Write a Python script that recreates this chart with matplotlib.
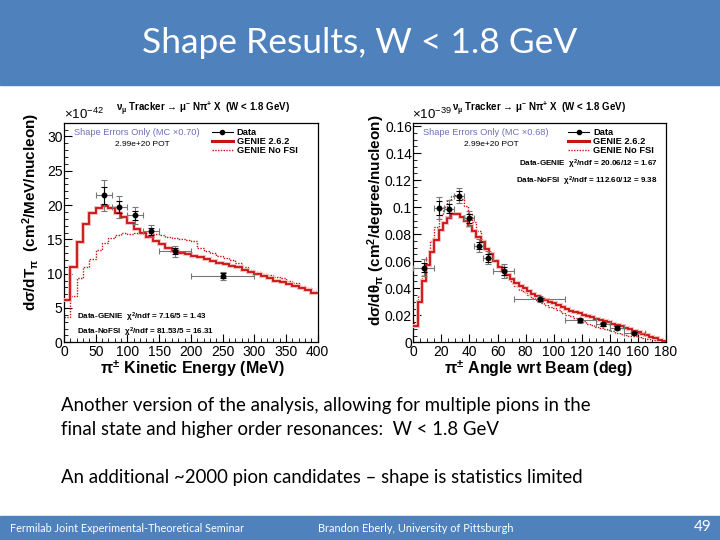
import numpy as np
import matplotlib
matplotlib.use("Agg")
import matplotlib.pyplot as plt
from matplotlib.patches import Rectangle
from matplotlib.lines import Line2D
from matplotlib.ticker import MultipleLocator, FuncFormatter

# ---- left panel: pion kinetic energy (units of 1e-42) ----
tpi_edges = np.linspace(0, 400, 41)
tpi_genie = [6.1, 10.9, 14.6, 17.2, 18.8, 19.5, 19.9, 19.6, 18.9, 18.3,
             17.4, 16.5, 15.9, 15.4, 14.8, 14.3, 13.8, 13.3, 13.0, 12.8,
             12.6, 12.4, 12.2, 11.9, 11.6, 11.4, 11.1, 10.9, 10.6, 10.3,
             10.0, 9.6, 9.3, 9.0, 8.8, 8.5, 8.2, 7.9, 7.6, 7.2]
tpi_nofsi = [3.7, 6.7, 9.3, 11.0, 12.1, 13.5, 14.5, 15.2, 15.6, 16.0,
             15.8, 16.0, 16.1, 16.0, 15.8, 15.6, 15.4, 15.2, 15.0, 14.9,
             14.8, 13.7, 13.3, 13.0, 12.6, 12.3, 12.0, 11.6, 11.0, 10.6,
             10.3, 10.0, 9.8, 9.5, 9.3, 8.9, 8.6, 8.2, 7.9, 7.5]
tpi_x = [62.5, 87.5, 112.5, 137.5, 175, 250]
tpi_xerr = [12.5, 12.5, 12.5, 12.5, 25, 50]
tpi_y = [21.4, 19.7, 18.5, 16.2, 13.3, 9.7]
tpi_err_tot = [2.3, 1.6, 1.2, 0.85, 0.8, 0.6]
tpi_err_stat = [1.3, 0.9, 0.7, 0.5, 0.45, 0.35]

# ---- right panel: pion angle (units of 1e-39) ----
th_edges = np.linspace(0, 180, 61)
th_genie = [0.012, 0.030, 0.045, 0.057, 0.067, 0.076, 0.083, 0.088, 0.092, 0.095,
            0.095, 0.093, 0.090, 0.086, 0.082, 0.078, 0.074, 0.069, 0.065, 0.060,
            0.056, 0.053, 0.050, 0.047, 0.044, 0.042, 0.040, 0.038, 0.036, 0.034,
            0.032, 0.031, 0.030, 0.029, 0.0275, 0.026, 0.025, 0.0235, 0.0225, 0.0215,
            0.0205, 0.0195, 0.0185, 0.0175, 0.0165, 0.0157, 0.0148, 0.0138, 0.0128, 0.0118,
            0.0108, 0.0096, 0.0085, 0.0074, 0.0063, 0.0052, 0.0040, 0.0030, 0.0020, 0.0008]
th_nofsi = [0.014, 0.034, 0.050, 0.063, 0.075, 0.085, 0.094, 0.100, 0.105, 0.108,
            0.109, 0.106, 0.101, 0.095, 0.089, 0.082, 0.076, 0.070, 0.065, 0.060,
            0.056, 0.052, 0.048, 0.045, 0.042, 0.039, 0.037, 0.035, 0.033, 0.031,
            0.029, 0.0275, 0.026, 0.0252, 0.024, 0.022, 0.0205, 0.0195, 0.0183, 0.0168,
            0.0155, 0.0138, 0.0125, 0.0115, 0.0105, 0.0095, 0.0088, 0.0080, 0.0072, 0.0064,
            0.0057, 0.0050, 0.0044, 0.0038, 0.0033, 0.0028, 0.0022, 0.0017, 0.0012, 0.0006]
th_x = [7.5, 18.5, 25.5, 32.5, 39.5, 46.5, 53.5, 64.5, 90, 119, 135, 145, 157.5]
th_xerr = [7.5, 3.5, 3.5, 3.5, 3.5, 3.5, 3.5, 7.5, 18, 11, 5, 5, 7.5]
th_y = [0.0553, 0.0993, 0.0990, 0.1085, 0.0919, 0.0716, 0.0627, 0.0528,
        0.0319, 0.0163, 0.0133, 0.0109, 0.0069]
th_err_tot = [0.006, 0.008, 0.006, 0.0055, 0.0055, 0.0047, 0.005, 0.005,
              0.002, 0.002, 0.0015, 0.0015, 0.0012]
th_err_stat = [0.0035, 0.005, 0.0035, 0.0033, 0.0033, 0.0028, 0.003, 0.003,
               0.0012, 0.0012, 0.0009, 0.0009, 0.0007]

slide_title = "Shape Results, W < 1.8 GeV"
body_lines = ["Another version of the analysis, allowing for multiple pions in the",
              "final state and higher order resonances:  W < 1.8 GeV",
              "An additional ~2000 pion candidates \u2013 shape is statistics limited"]
footer_left = "Fermilab Joint Experimental-Theoretical Seminar"
footer_mid = "Brandon Eberly, University of Pittsburgh"
page_no = "49"

BLUE = "#4F81BD"
RED = "#CC1111"
PINK = "#F5BDBD"
ROOT_FONT = "Liberation Sans"
SLIDE_FONT = "Lato"

plt.rcParams["mathtext.fontset"] = "custom"
plt.rcParams["mathtext.rm"] = ROOT_FONT
plt.rcParams["mathtext.it"] = ROOT_FONT + ":italic"
plt.rcParams["mathtext.bf"] = ROOT_FONT + ":bold"
plt.rcParams["mathtext.sf"] = ROOT_FONT
plt.rcParams["mathtext.default"] = "regular"

fig = plt.figure(figsize=(7.2, 5.4), dpi=100)
W, H = 720.0, 540.0


def fx(px):
    return px / W


def fy(py):
    return 1 - py / H


# slide header / footer bands
fig.patches.append(Rectangle((0, fy(85)), 1, 85 / H, transform=fig.transFigure,
                             color=BLUE, zorder=0))
fig.patches.append(Rectangle((0, 0), 1, 24 / H, transform=fig.transFigure,
                             color=BLUE, zorder=0))
fig.text(0.5, fy(43), slide_title, color="white", fontsize=25.5, family=SLIDE_FONT,
         ha="center", va="center")
fig.text(fx(61), fy(406), body_lines[0], fontsize=13.4, family=SLIDE_FONT, va="center")
fig.text(fx(61), fy(430), body_lines[1], fontsize=13.4, family=SLIDE_FONT, va="center")
fig.text(fx(61), fy(477), body_lines[2], fontsize=13.4, family=SLIDE_FONT, va="center")
fig.text(fx(10), fy(528), footer_left, color="white", fontsize=7.8, family=SLIDE_FONT, va="center")
fig.text(fx(318), fy(528), footer_mid, color="white", fontsize=7.9, family=SLIDE_FONT, va="center")
fig.text(fx(712), fy(527), page_no, color="white", fontsize=11, family=SLIDE_FONT,
         ha="right", va="center")


def style_axes(ax, xmaj, xmin, ymaj, ymin):
    ax.xaxis.set_major_locator(MultipleLocator(xmaj))
    ax.xaxis.set_minor_locator(MultipleLocator(xmin))
    ax.yaxis.set_major_locator(MultipleLocator(ymaj))
    ax.yaxis.set_minor_locator(MultipleLocator(ymin))
    ax.tick_params(which="both", direction="in", labelsize=10, pad=2)
    ax.tick_params(axis="y", pad=1)
    ax.tick_params(which="major", length=6, width=0.8)
    ax.tick_params(which="minor", length=3, width=0.6)
    for lab in ax.get_xticklabels() + ax.get_yticklabels():
        lab.set_family(ROOT_FONT)
    for s in ax.spines.values():
        s.set_linewidth(0.9)


def draw_panel(ax, edges, genie, nofsi, x, xerr, y, etot, estat):
    ax.stairs(nofsi, edges, baseline=None, color=RED, linestyle=(0, (1, 1)),
              linewidth=1.0, zorder=2)
    ax.stairs(genie, edges, baseline=None, color=PINK, linewidth=2.8, zorder=3)
    ax.stairs(genie, edges, baseline=None, color=RED, linewidth=1.3, zorder=4)
    ax.errorbar(x, y, xerr=xerr, yerr=etot, fmt="none", ecolor="#777777",
                elinewidth=0.8, capsize=2, capthick=0.8, zorder=5)
    ax.errorbar(x, y, yerr=estat, fmt="o", color="black", ms=3.2,
                elinewidth=0.8, capsize=2, capthick=0.8, zorder=6)


handles = [Line2D([], [], color="black", marker="o", ms=3, lw=0.8),
           Line2D([], [], color=RED, lw=2.2),
           Line2D([], [], color=RED, lw=1.0, linestyle=(0, (1, 1)))]
labels = ["Data", "GENIE 2.6.2", "GENIE No FSI"]
legend_font = {"family": ROOT_FONT, "weight": "bold", "size": 6.7}
legend_kw = dict(loc="upper left", frameon=False, prop=legend_font, handlelength=2.3,
                 labelspacing=0.0, borderpad=0.1, handletextpad=0.4)

# left panel
axl = fig.add_axes([fx(64), fy(342.3), (317.7 - 64) / W, (342.3 - 122.7) / H])
draw_panel(axl, tpi_edges, tpi_genie, tpi_nofsi, tpi_x, tpi_xerr, tpi_y,
           tpi_err_tot, tpi_err_stat)
axl.set_xlim(0, 400)
axl.set_ylim(0, 32)
style_axes(axl, 50, 10, 5, 1)
axl.legend(handles, labels, bbox_to_anchor=(0.56, 1.0), **legend_kw)
axl.text(0.04, 0.975, "Shape Errors Only (MC \u00d70.70)", transform=axl.transAxes,
         color="#7070B8", fontsize=6.7, family=ROOT_FONT, va="top")
axl.text(0.20, 0.915, "2.99e+20 POT", transform=axl.transAxes,
         fontsize=6, family=ROOT_FONT, va="top")
axl.text(0.05, 0.115, r"Data-GENIE  $\chi^2$/ndf = 7.16/5 = 1.43", transform=axl.transAxes,
         fontsize=5.8, family=ROOT_FONT, weight="bold", va="center")
axl.text(0.05, 0.045, r"Data-NoFSI  $\chi^2$/ndf = 81.53/5 = 16.31", transform=axl.transAxes,
         fontsize=5.8, family=ROOT_FONT, weight="bold", va="center")

# right panel
axr = fig.add_axes([fx(413.3), fy(342.3), (666 - 413.3) / W, (342.3 - 122.7) / H])
draw_panel(axr, th_edges, th_genie, th_nofsi, th_x, th_xerr, th_y,
           th_err_tot, th_err_stat)
axr.set_xlim(0, 180)
axr.set_ylim(0, 0.1625)
style_axes(axr, 20, 5, 0.02, 0.005)
axr.yaxis.set_major_formatter(FuncFormatter(
    lambda v, p: "0" if abs(v) < 1e-9 else f"{v:.2f}".rstrip("0")))
axr.legend(handles, labels, bbox_to_anchor=(0.59, 1.0), **legend_kw)
axr.text(0.04, 0.975, "Shape Errors Only (MC \u00d70.68)", transform=axr.transAxes,
         color="#7070B8", fontsize=6.7, family=ROOT_FONT, va="top")
axr.text(0.20, 0.915, "2.99e+20 POT", transform=axr.transAxes,
         fontsize=6, family=ROOT_FONT, va="top")
axr.text(0.965, 0.81, r"Data-GENIE  $\chi^2$/ndf = 20.06/12 = 1.67", transform=axr.transAxes,
         fontsize=5.8, family=ROOT_FONT, weight="bold", va="center", ha="right")
axr.text(0.965, 0.735, r"Data-NoFSI  $\chi^2$/ndf = 112.60/12 = 9.38", transform=axr.transAxes,
         fontsize=5.8, family=ROOT_FONT, weight="bold", va="center", ha="right")

# titles, exponents and axis labels (ROOT style)
plot_title = "$\\nu_{\\mu}$ Tracker \u2192 $\\mu^{-}$ N$\\pi^{+}$ X  (W < 1.8 GeV)"
fig.text(fx(203), fy(108), plot_title, fontsize=7.0, family=ROOT_FONT, weight="bold",
         ha="center", va="center")
fig.text(fx(539), fy(108), plot_title, fontsize=7.0, family=ROOT_FONT, weight="bold",
         ha="center", va="center")
fig.text(fx(64), fy(114), "\u00d710$^{-42}$", fontsize=9.5, family=ROOT_FONT,
         ha="left", va="center")
fig.text(fx(412), fy(114), "\u00d710$^{-39}$", fontsize=9.5, family=ROOT_FONT,
         ha="left", va="center")
fig.text(fx(31), fy(212), "d\u03c3/dT$_{\\pi}$  (cm$^{2}$/MeV/nucleon)", rotation=90,
         fontsize=11, family=ROOT_FONT, weight="bold", ha="center", va="center")
fig.text(fx(376), fy(220), "d\u03c3/d\u03b8$_{\\pi}$ (cm$^{2}$/degree/nucleon)", rotation=90,
         fontsize=11, family=ROOT_FONT, weight="bold", ha="center", va="center")
fig.text(fx(192), fy(369), "\u03c0$^{\u00b1}$ Kinetic Energy (MeV)", fontsize=11.5,
         family=ROOT_FONT, weight="bold", ha="center", va="center")
fig.text(fx(539), fy(369), "\u03c0$^{\u00b1}$ Angle wrt Beam (deg)", fontsize=11.5,
         family=ROOT_FONT, weight="bold", ha="center", va="center")

fig.savefig("out.png", dpi=100)
